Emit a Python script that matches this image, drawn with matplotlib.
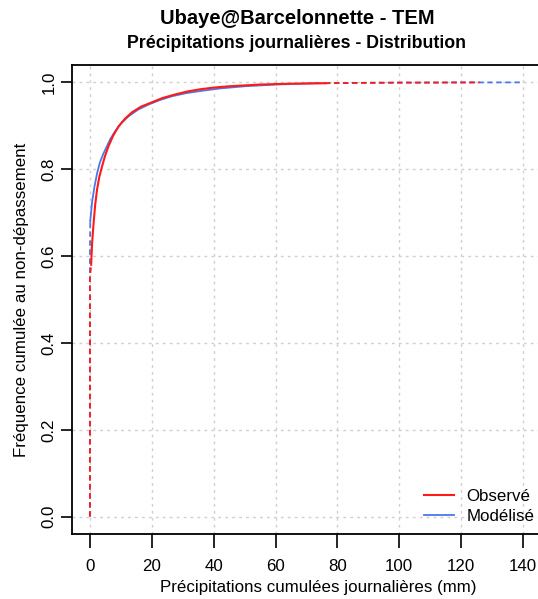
import numpy as np
import matplotlib
matplotlib.use('Agg')
import matplotlib.pyplot as plt

plt.rcParams['font.family'] = ['Liberation Sans', 'DejaVu Sans']

# cumulative distribution (solid part)
obs_x = [0.4, 0.7, 1.2, 1.7, 2.3, 3.0, 3.9, 4.9, 6.0, 7.5, 9.3, 11.3, 13.6, 16.5, 20,
         23.5, 27.5, 31.5, 35.6, 40, 45, 50, 55, 65, 76]
obs_f = [0.58, 0.63, 0.677, 0.718, 0.753, 0.781, 0.806, 0.831, 0.853, 0.877, 0.899, 0.916,
         0.931, 0.944, 0.954, 0.964, 0.972, 0.979, 0.984, 0.988, 0.991, 0.993, 0.995, 0.997, 0.998]
mod_x = [0.1, 0.7, 1.5, 2.3, 3.2, 4.3, 5.5, 6.7, 8.1, 10, 12.5, 15.5, 19, 22.5, 26.5,
         31, 35.6, 42, 50, 60, 73]
mod_f = [0.68, 0.725, 0.761, 0.79, 0.815, 0.835, 0.853, 0.871, 0.887, 0.905, 0.922, 0.937,
         0.949, 0.959, 0.968, 0.975, 0.980, 0.986, 0.991, 0.995, 0.998]
# dashed tails
obs_head_x = [0, 0, 0.4]
obs_head_f = [0, 0.55, 0.58]
obs_tail_x = [76, 90, 110, 126]
obs_tail_f = [0.998, 0.999, 0.9995, 1.0]
mod_head_x = [0, 0, 0.1]
mod_head_f = [0, 0.6, 0.68]
mod_tail_x = [73, 100, 140]
mod_tail_f = [0.998, 0.9995, 1.0]

red = '#ff1a1a'
blue = '#4a78e8'
fs = 12.2

fig = plt.figure(figsize=(5.38, 5.99), dpi=100)
ax = fig.add_axes([0.1338, 0.1085, 0.8705, 0.783])

ax.plot(mod_x, mod_f, color=blue, lw=1.3, label='Modélisé')
ax.plot(mod_head_x, mod_head_f, color=blue, lw=1.3, ls=(0, (3, 2)))
ax.plot(mod_tail_x, mod_tail_f, color=blue, lw=1.3, ls=(0, (3, 2)))
ax.plot(obs_x, obs_f, color=red, lw=1.5, label='Observé')
ax.plot(obs_head_x, obs_head_f, color=red, lw=1.3, ls=(0, (3, 2)))
ax.plot(obs_tail_x, obs_tail_f, color=red, lw=1.3, ls=(0, (3, 2)))

ax.set_xlim(-5.8, 145.6)
ax.set_ylim(-0.04, 1.04)
ax.set_xticks(np.arange(0, 141, 20))
ax.set_yticks([0, 0.2, 0.4, 0.6, 0.8, 1.0])
ax.set_yticklabels(['0.0', '0.2', '0.4', '0.6', '0.8', '1.0'], rotation=90, va='center')
ax.grid(True, color='#cfcfcf', ls=(0, (2, 3)), lw=1)
ax.set_axisbelow(True)

ax.spines['right'].set_visible(False)
for s in ['left', 'top', 'bottom']:
    ax.spines[s].set_linewidth(1.3)
ax.tick_params(axis='x', length=10, width=1.2, pad=8, labelsize=fs)
ax.tick_params(axis='y', length=8, width=1.2, pad=3, labelsize=fs)

ax.set_xlabel('Précipitations cumulées journalières (mm)', fontsize=fs)
ax.xaxis.set_label_coords(0.526, -0.097)
ax.set_ylabel('Fréquence cumulée au non-dépassement', fontsize=fs, labelpad=9)

h, l = ax.get_legend_handles_labels()
ax.legend(h[::-1], l[::-1], loc='lower right', bbox_to_anchor=(1.02, -0.012),
          frameon=False, fontsize=fs, handlelength=1.75, labelspacing=0.3,
          handletextpad=0.75)

fig.text(297 / 538, 1 - 18 / 599, 'Ubaye@Barcelonnette - TEM', ha='center', va='center',
         fontsize=14.5, fontweight='bold')
fig.text(297 / 538, 1 - 43 / 599, 'Précipitations journalières - Distribution', ha='center',
         va='center', fontsize=12.8, fontweight='bold')

fig.savefig('out.png', dpi=100)
